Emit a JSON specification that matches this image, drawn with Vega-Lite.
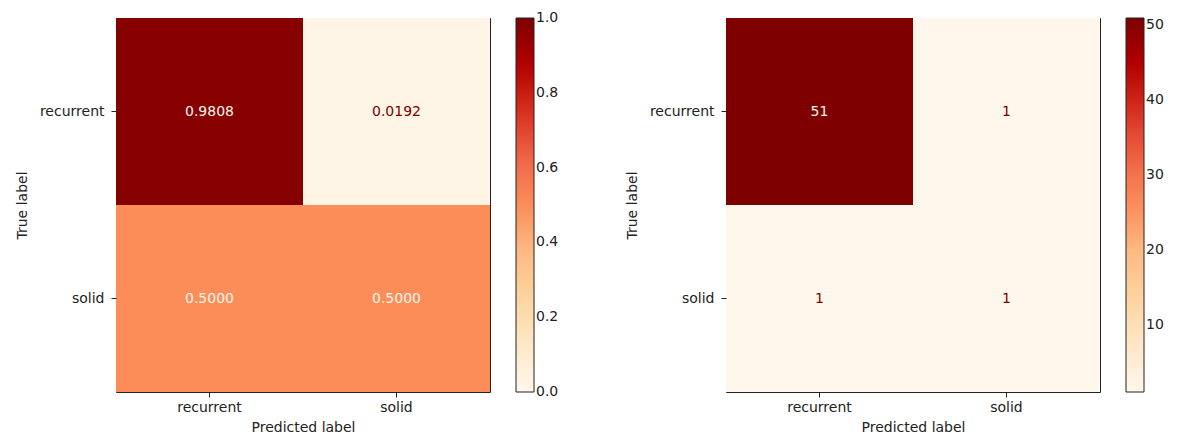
{
  "$schema": "https://vega.github.io/schema/vega-lite/v6.json",
  "padding": {"left": 14, "top": 17, "right": 5, "bottom": 2},
  "background": "white",
  "datasets": {
    "norm": [
      {"true": "recurrent", "pred": "recurrent", "value": 0.9808},
      {"true": "recurrent", "pred": "solid", "value": 0.0192},
      {"true": "solid", "pred": "recurrent", "value": 0.5},
      {"true": "solid", "pred": "solid", "value": 0.5}
    ],
    "counts": [
      {"true": "recurrent", "pred": "recurrent", "count": 51},
      {"true": "recurrent", "pred": "solid", "count": 1},
      {"true": "solid", "pred": "recurrent", "count": 1},
      {"true": "solid", "pred": "solid", "count": 1}
    ]
  },
  "spacing": 64,
  "resolve": {"scale": {"color": "independent"}},
  "hconcat": [
    {
      "width": 374,
      "height": 374,
      "data": {"name": "norm"},
      "encoding": {
        "x": {"field": "pred", "type": "nominal", "title": "Predicted label"},
        "y": {"field": "true", "type": "nominal", "title": "True label"}
      },
      "layer": [
        {
          "mark": {"type": "rect"},
          "encoding": {
            "color": {
              "field": "value",
              "type": "quantitative",
              "scale": {
                "domain": [0, 0.125, 0.25, 0.375, 0.5, 0.625, 0.75, 0.875, 1],
                "range": ["#fff7ec", "#fee8c8", "#fdd49e", "#fdbb84", "#fc8d59", "#ef6548", "#d7301f", "#b30000", "#7f0000"],
                "interpolate": "rgb"
              },
              "legend": {
                "values": [0, 0.2, 0.4, 0.6, 0.8, 1.0],
                "format": ".1f",
                "title": null,
                "encode": {"labels": {"update": {"baseline": {"value": "middle"}}}}
              }
            }
          }
        },
        {
          "mark": {"type": "text", "fontSize": 14, "font": "DejaVu Sans"},
          "encoding": {
            "text": {"field": "value", "type": "quantitative", "format": ".4f"},
            "color": {"condition": {"test": "datum.value < 0.5", "value": "#7f0000"}, "value": "#fff7ec"}
          }
        }
      ]
    },
    {
      "width": 374,
      "height": 374,
      "data": {"name": "counts"},
      "encoding": {
        "x": {"field": "pred", "type": "nominal", "title": "Predicted label"},
        "y": {"field": "true", "type": "nominal", "title": "True label"}
      },
      "layer": [
        {
          "mark": {"type": "rect"},
          "encoding": {
            "color": {
              "field": "count",
              "type": "quantitative",
              "scale": {
                "domain": [1, 7.25, 13.5, 19.75, 26, 32.25, 38.5, 44.75, 51],
                "range": ["#fff7ec", "#fee8c8", "#fdd49e", "#fdbb84", "#fc8d59", "#ef6548", "#d7301f", "#b30000", "#7f0000"],
                "interpolate": "rgb"
              },
              "legend": {
                "values": [10, 20, 30, 40, 50],
                "format": "d",
                "title": null,
                "encode": {"labels": {"update": {"baseline": {"value": "middle"}}}}
              }
            }
          }
        },
        {
          "mark": {"type": "text", "fontSize": 14, "font": "DejaVu Sans"},
          "encoding": {
            "text": {"field": "count", "type": "quantitative", "format": "d"},
            "color": {"condition": {"test": "datum.count < 26", "value": "#7f0000"}, "value": "#fff7ec"}
          }
        }
      ]
    }
  ],
  "config": {
    "font": "DejaVu Sans",
    "view": {"stroke": "#222", "strokeWidth": 1},
    "axis": {
      "domain": false,
      "grid": false,
      "labelFont": "DejaVu Sans",
      "labelFontSize": 14,
      "labelColor": "#222",
      "tickColor": "#222",
      "tickSize": 5,
      "titleFont": "DejaVu Sans",
      "titleFontSize": 14,
      "titleFontWeight": "normal",
      "titleColor": "#222"
    },
    "axisX": {"labelAngle": 0, "labelPadding": 3, "titlePadding": 6},
    "axisY": {"labelPadding": 7, "titlePadding": 10},
    "legend": {
      "orient": "right",
      "gradientLength": 374,
      "gradientThickness": 18,
      "gradientStrokeColor": "#222",
      "gradientStrokeWidth": 1,
      "offset": 26,
      "padding": 0,
      "labelFont": "DejaVu Sans",
      "labelFontSize": 14,
      "labelColor": "#222",
      "labelOffset": 10,
      "labelOverlap": false
    }
  }
}
